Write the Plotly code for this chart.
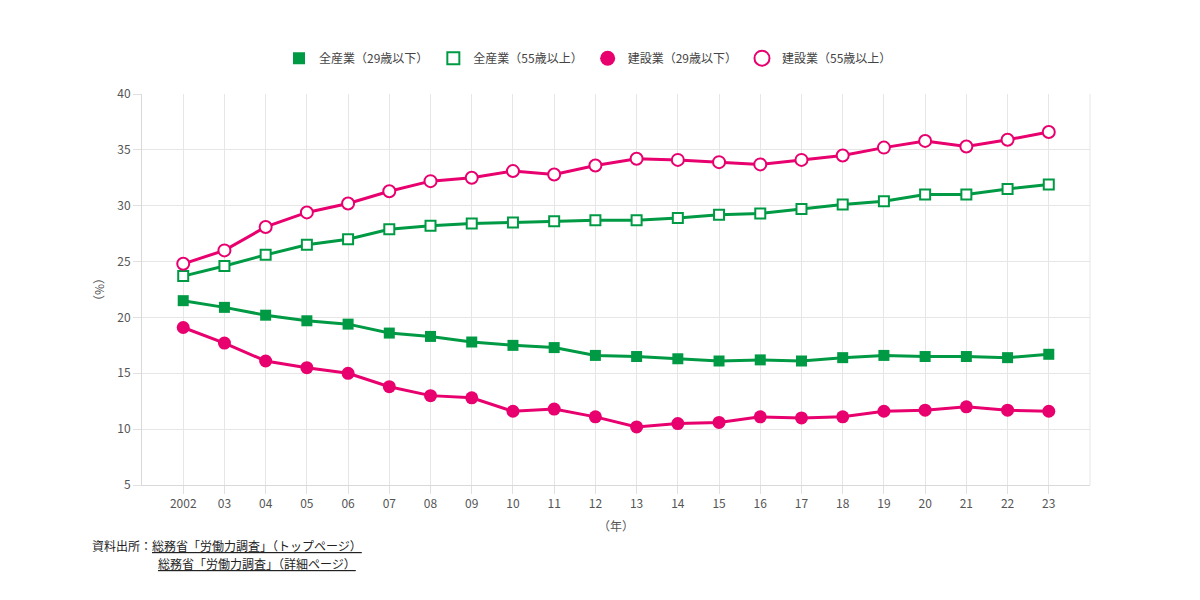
import plotly.graph_objects as go

years = ["2002", "03", "04", "05", "06", "07", "08", "09", "10", "11", "12",
         "13", "14", "15", "16", "17", "18", "19", "20", "21", "22", "23"]

all_u29 = [21.5, 20.9, 20.2, 19.7, 19.4, 18.6, 18.3, 17.8, 17.5, 17.3, 16.6,
           16.5, 16.3, 16.1, 16.2, 16.1, 16.4, 16.6, 16.5, 16.5, 16.4, 16.7]
all_o55 = [23.7, 24.6, 25.6, 26.5, 27.0, 27.9, 28.2, 28.4, 28.5, 28.6, 28.7,
           28.7, 28.9, 29.2, 29.3, 29.7, 30.1, 30.4, 31.0, 31.0, 31.5, 31.9]
con_u29 = [19.1, 17.7, 16.1, 15.5, 15.0, 13.8, 13.0, 12.8, 11.6, 11.8, 11.1,
           10.2, 10.5, 10.6, 11.1, 11.0, 11.1, 11.6, 11.7, 12.0, 11.7, 11.6]
con_o55 = [24.8, 26.0, 28.1, 29.4, 30.2, 31.3, 32.2, 32.5, 33.1, 32.8, 33.6,
           34.2, 34.1, 33.9, 33.7, 34.1, 34.5, 35.2, 35.8, 35.3, 35.9, 36.6]

names = ["全産業（29歳以下）", "全産業（55歳以上）", "建設業（29歳以下）", "建設業（55歳以上）"]
GREEN = "#009a44"
PINK = "#e8006e"
FONT = "Noto Sans CJK JP"

x = list(range(len(years)))

series = [
    (all_u29, names[0], GREEN, "square", 11, GREEN, 0),
    (all_o55, names[1], GREEN, "square", 10, "white", 2),
    (con_u29, names[2], PINK, "circle", 13, PINK, 0),
    (con_o55, names[3], PINK, "circle", 12, "white", 2),
]

fig = go.Figure()
for ys, nm, col, sym, sz, fill, lw in series:
    fig.add_trace(go.Scatter(x=x, y=ys, name=nm, mode="lines+markers",
                             showlegend=False,
                             line=dict(color=col, width=3),
                             marker=dict(symbol=sym, size=sz, color=fill,
                                         line=dict(color=col, width=lw))))
# legend entries (markers only, like the reference)
for ys, nm, col, sym, sz, fill, lw in series:
    lsz = 12 if sym == "square" else 15
    fig.add_trace(go.Scatter(x=[None], y=[None], name=nm, mode="markers",
                             showlegend=True,
                             marker=dict(symbol=sym, size=lsz, color=fill,
                                         line=dict(color=col, width=lw))))

fig.update_layout(
    width=1200, height=600,
    margin=dict(l=142, r=110, t=94, b=115),
    paper_bgcolor="white", plot_bgcolor="white",
    font=dict(family=FONT, size=12, color="#555555"),
    showlegend=True,
    legend=dict(orientation="h", xref="container", yref="container",
                x=0.49, xanchor="center", y=0.903, yanchor="middle",
                font=dict(size=12, color="#444444"), itemwidth=30,
                traceorder="normal", itemsizing="trace"),
    xaxis=dict(range=[-1, 22], tickmode="array", tickvals=x, ticktext=years,
               showgrid=True, gridcolor="#e6e6e6", gridwidth=1,
               showline=True, linecolor="#d9d9d9", linewidth=1,
               ticks="outside", ticklen=8, tickcolor="#e0e0e0",
               zeroline=False, mirror=False,
               tickfont=dict(size=12, color="#555555"),
               title=dict(text="（年）", font=dict(size=12, color="#555555"), standoff=12)),
    yaxis=dict(range=[5, 40], tickmode="array", tickvals=[5, 10, 15, 20, 25, 30, 35, 40],
               showgrid=True, gridcolor="#e6e6e6", gridwidth=1,
               showline=True, linecolor="#d9d9d9", linewidth=1,
               ticks="outside", ticklen=8, tickcolor="#e0e0e0",
               zeroline=False,
               tickfont=dict(size=12, color="#555555"),
               title=dict(text="（%）", font=dict(size=12, color="#555555"), standoff=10)),
)

# right border gridline
fig.add_shape(type="line", xref="paper", yref="paper", x0=1, x1=1, y0=0, y1=1,
              line=dict(color="#e6e6e6", width=1))

fig.add_annotation(xref="paper", yref="paper", x=-0.055, y=-0.155, xanchor="left",
                   yanchor="middle", showarrow=False,
                   text="資料出所：<u>総務省「労働力調査」（トップページ）</u>",
                   font=dict(size=12, color="#222222"))
fig.add_annotation(xref="paper", yref="paper", x=0.015, y=-0.2, xanchor="left",
                   yanchor="middle", showarrow=False,
                   text="<u>総務省「労働力調査」（詳細ページ）</u>",
                   font=dict(size=12, color="#222222"))

fig.write_html("out.html")
